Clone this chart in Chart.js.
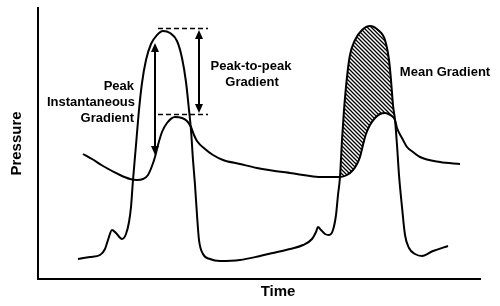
<!DOCTYPE html>
<html>
<head>
<meta charset="utf-8">
<script src="https://cdn.jsdelivr.net/npm/chart.js@4.4.1/dist/chart.umd.min.js"></script>
<style>
  html, body { margin: 0; padding: 0; background: #fff; }
  #wrap { width: 500px; height: 306px; }
</style>
</head>
<body>
<div id="wrap"><canvas id="chart"></canvas></div>
<script>
// Left ventricular pressure trace (two beats)
const lvTime = [40, 52, 62, 67, 70, 74, 78, 84, 88, 91, 93, 95, 98, 101, 104, 108, 113, 119, 125, 132,
  139, 144, 148, 151, 153, 155, 157, 159, 161, 165, 172, 182, 202, 222, 235, 252, 265, 274, 278, 280,
  283, 287, 291, 295, 298, 300, 302, 304, 306, 309, 312, 317, 324, 332, 340, 347, 351, 353, 355, 357,
  359, 361, 364, 367, 371, 377, 384, 395, 410];
const lvPressure = [20, 22, 24, 30, 39, 49, 46, 40, 45, 57, 72, 99, 134, 169, 196, 219, 235, 244, 248, 246,
  238, 221, 197, 169, 149, 119, 94, 64, 39, 25, 20, 18, 19, 23, 26, 30, 34, 40, 47, 52,
  49, 45, 44, 49, 64, 84, 102, 139, 169, 202, 224, 239, 249, 253, 249, 239, 219, 199, 174, 159,
  134, 104, 72, 44, 31, 25, 23, 28, 33];

// Aortic pressure trace
const aoTime = [45, 54, 65, 82, 92, 99, 105, 110, 114, 117, 120, 124, 129, 137, 144, 149, 153, 156, 159, 167,
  175, 185, 202, 219, 252, 285, 302, 309, 315, 319, 322, 325, 328, 332, 337, 342, 347, 352, 357, 359,
  364, 369, 375, 382, 402, 422];
const aoPressure = [125, 120, 113, 104, 100, 99, 100, 104, 113, 122, 134, 147, 156, 162, 161, 158, 152, 144, 138, 130,
  124, 119, 115, 111, 106, 102, 102, 104, 109, 115, 122, 134, 145, 154, 161, 165, 166, 164, 159, 151,
  141, 132, 127, 122, 117, 115];

// Mean gradient (hatched) window, second beat
const meanWindow = [302, 357];
// Dashed guide levels (LV peak, aortic peak) and their time span
const guideLevels = [251, 165];
const guideSpan = [120, 170];
// Gradient arrows: [time, top pressure, bottom pressure]
const peakToPeakArrow = [161, 249, 166];
const instantArrow = [117, 236, 124];

const FONT = "'Liberation Sans', Arial, Helvetica, sans-serif";

const toPoints = (t, p) => t.map((v, i) => ({ x: v, y: p[i] }));
const inWindow = pts => pts.filter(pt => pt.x >= meanWindow[0] && pt.x <= meanWindow[1]);

const lvPoints = toPoints(lvTime, lvPressure);
const aoPoints = toPoints(aoTime, aoPressure);

const canvas = document.getElementById('chart');
const ctx = canvas.getContext('2d');

// diagonal hatch pattern
function makeHatch() {
  const c = document.createElement('canvas');
  c.width = 4; c.height = 4;
  const g = c.getContext('2d');
  g.strokeStyle = '#000';
  g.lineWidth = 1.3;
  g.beginPath();
  g.moveTo(-1, -1); g.lineTo(5, 5);
  g.moveTo(-1, 3); g.lineTo(1, 5);
  g.moveTo(3, -1); g.lineTo(5, 1);
  g.stroke();
  return ctx.createPattern(c, 'repeat');
}

function vArrow(c, x, yTop, yBot) {
  const head = 9, half = 4;
  c.beginPath();
  c.moveTo(x, yTop + head - 1);
  c.lineTo(x, yBot - head + 1);
  c.stroke();
  [[yTop, 1], [yBot, -1]].forEach(([y, d]) => {
    c.beginPath();
    c.moveTo(x, y);
    c.lineTo(x - half, y + d * head);
    c.lineTo(x + half, y + d * head);
    c.closePath();
    c.fill();
  });
}

const annotations = {
  id: 'annotations',
  afterDatasetsDraw(chart) {
    const { ctx: c, scales: { x, y }, chartArea } = chart;
    c.save();
    c.strokeStyle = '#000';
    c.fillStyle = '#000';

    // dashed guides
    c.lineWidth = 1.5;
    c.setLineDash([5, 3]);
    guideLevels.forEach(level => {
      const py = Math.round(y.getPixelForValue(level)) + 0.5;
      c.beginPath();
      c.moveTo(x.getPixelForValue(guideSpan[0]), py);
      c.lineTo(x.getPixelForValue(guideSpan[1]), py);
      c.stroke();
    });
    c.setLineDash([]);

    // arrows
    c.lineWidth = 2;
    [peakToPeakArrow, instantArrow].forEach(([t, top, bot]) => {
      vArrow(c, x.getPixelForValue(t), y.getPixelForValue(top), y.getPixelForValue(bot));
    });

    // labels
    c.font = 'bold 13px ' + FONT;
    c.textBaseline = 'middle';
    c.textAlign = 'right';
    c.fillText('Peak', x.getPixelForValue(96), y.getPixelForValue(193));
    c.fillText('Instantaneous', x.getPixelForValue(97), y.getPixelForValue(177));
    c.fillText('Gradient', x.getPixelForValue(96), y.getPixelForValue(161));
    c.textAlign = 'center';
    c.fillText('Peak-to-peak', x.getPixelForValue(213), y.getPixelForValue(213));
    c.fillText('Gradient', x.getPixelForValue(214), y.getPixelForValue(197));
    c.fillText('Mean Gradient', x.getPixelForValue(407), y.getPixelForValue(207));

    // x axis title
    c.font = 'bold 15px ' + FONT;
    c.fillText('Time', x.getPixelForValue(240), chartArea.bottom + 13);
    c.restore();
  }
};

new Chart(ctx, {
  type: 'line',
  data: {
    datasets: [
      {
        label: 'LV',
        data: lvPoints,
        borderColor: '#000',
        borderWidth: 2,
        fill: false,
        cubicInterpolationMode: 'monotone'
      },
      {
        label: 'Aorta',
        data: aoPoints,
        borderColor: '#000',
        borderWidth: 2,
        fill: false,
        cubicInterpolationMode: 'monotone'
      },
      {
        label: 'Mean gradient top',
        data: inWindow(lvPoints),
        borderColor: 'transparent',
        borderWidth: 0,
        backgroundColor: makeHatch(),
        fill: '+1',
        cubicInterpolationMode: 'monotone'
      },
      {
        label: 'Mean gradient bottom',
        data: inWindow(aoPoints),
        borderColor: 'transparent',
        borderWidth: 0,
        fill: false,
        cubicInterpolationMode: 'monotone'
      }
    ]
  },
  options: {
    responsive: true,
    maintainAspectRatio: false,
    animation: false,
    events: [],
    layout: { padding: { left: 0, top: 8, right: 20, bottom: 27 } },
    elements: { point: { radius: 0 } },
    plugins: {
      legend: { display: false },
      tooltip: { enabled: false }
    },
    scales: {
      x: {
        type: 'linear',
        min: 0,
        max: 442,
        ticks: { display: false },
        grid: { display: false, drawTicks: false },
        border: { display: true, color: '#000', width: 2 }
      },
      y: {
        min: 0,
        max: 271,
        ticks: { display: false },
        grid: { display: false, drawTicks: false },
        border: { display: true, color: '#000', width: 2 },
        title: {
          display: true,
          text: 'Pressure',
          color: '#000',
          font: { family: FONT, size: 15, weight: 'bold', lineHeight: 1.2 },
          padding: { top: 8, bottom: 12 }
        }
      }
    }
  },
  plugins: [annotations]
});
</script>
</body>
</html>
